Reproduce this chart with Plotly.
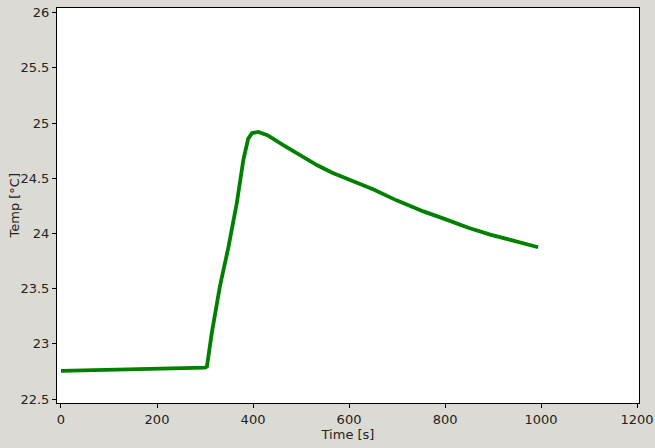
import plotly.graph_objects as go

time_s = [0, 25, 50, 75, 100, 125, 150, 175, 200, 225, 250, 275, 300, 304, 314, 331, 349, 366, 380, 390,
          398, 411, 430, 463, 500, 533, 565, 602, 650, 699, 755, 800, 824, 850, 894, 950, 994]
temp_c = [22.755, 22.758, 22.76, 22.762, 22.765, 22.768, 22.77, 22.775, 22.776, 22.778, 22.78, 22.782, 22.785,
          22.795, 23.095, 23.52, 23.88, 24.27, 24.67, 24.86,
          24.91, 24.92, 24.89, 24.80, 24.70, 24.62, 24.55, 24.485, 24.40, 24.30, 24.20, 24.13, 24.09, 24.05,
          23.99, 23.93, 23.875]

x_ticks = [0, 200, 400, 600, 800, 1000, 1200]
y_ticks = [22.5, 23, 23.5, 24, 24.5, 25, 25.5, 26]

fig = go.Figure()
fig.add_trace(go.Scatter(x=time_s, y=temp_c, mode="lines",
                         line=dict(color="#008000", width=3.8), showlegend=False))

axis_common = dict(showline=True, linecolor="black", linewidth=1, mirror=True, automargin=False,
                   ticks="outside", ticklen=4, tickcolor="black", showgrid=False, zeroline=False,
                   tickfont=dict(family="DejaVu Sans", size=13, color="#222"),
                   title_font=dict(family="DejaVu Sans", size=13, color="#222"))

fig.update_layout(
    width=655, height=448,
    margin=dict(l=57, r=16, t=8, b=45, autoexpand=False),
    paper_bgcolor="#dcdad5", plot_bgcolor="white",
    xaxis=dict(range=[-8.3, 1204], tickvals=x_ticks, title=dict(text="Time [s]", standoff=4), **axis_common),
    yaxis=dict(range=[22.464, 26.043], tickvals=y_ticks, **axis_common),
    annotations=[dict(text="Temp [°C]", textangle=-90, xref="paper", yref="paper",
                      x=-43 / 582, y=0.5, xanchor="center", yanchor="middle", showarrow=False,
                      font=dict(family="DejaVu Sans", size=13, color="#222"))],
)

fig.write_html("out.html", config={"displayModeBar": False},
               post_script="document.body.style.margin='0';document.body.style.background='#dcdad5';")
